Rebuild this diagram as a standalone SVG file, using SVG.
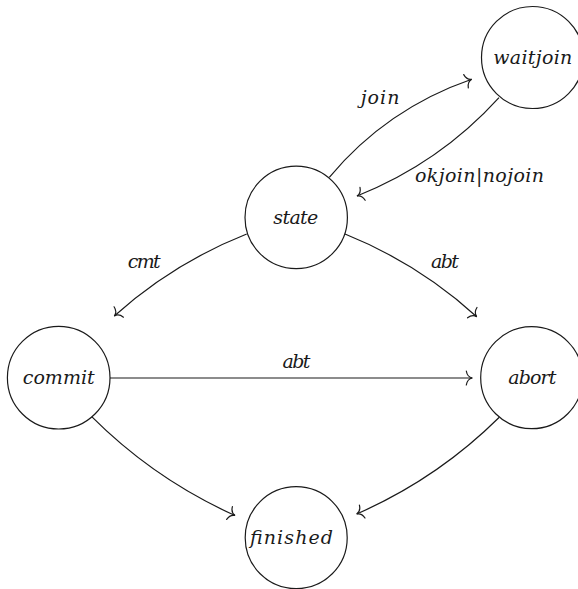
<svg xmlns="http://www.w3.org/2000/svg" width="578" height="589" viewBox="0 0 578 589">
<style>
.node circle{fill:#fff;stroke:#1a1a1a;stroke-width:1.2}
text{font-family:"DejaVu Serif",serif;font-style:italic;font-size:19px;fill:#1a1a1a}
.edge{fill:none;stroke:#1a1a1a;stroke-width:1.2;marker-end:url(#to)}
</style>
<defs>
<marker id="to" viewBox="-10 -10 20 20" markerWidth="20" markerHeight="20" refX="0" refY="0" orient="auto" markerUnits="userSpaceOnUse" overflow="visible">
<path d="M-6,-7 Q-5,-1 0,0 Q-5,1 -6,7" fill="none" stroke="#1a1a1a" stroke-width="1.2" stroke-linecap="round"/>
</marker>
</defs>
<g id="connectors">
<path class="edge" d="M329.3,177.3 Q386.8,108.6 471.7,79.3"/>
<path class="edge" d="M499,97.7 Q439.4,163.3 357,196"/>
<path class="edge" d="M246.7,234 Q173.1,263.1 114.3,316"/>
<path class="edge" d="M345,234 Q418.3,263.5 476.7,316.7"/>
<path class="edge" d="M110,378 L472.3,378"/>
<path class="edge" d="M91.7,416.7 Q154.3,479.3 235,515.5"/>
<path class="edge" d="M499.3,417.3 Q437,479 356.7,514"/>
<text x="360.7" y="104" textLength="38.7" lengthAdjust="spacing">join</text>
<text x="415" y="181.7" textLength="129" lengthAdjust="spacing">okjoin|nojoin</text>
<text x="127.7" y="267.7" textLength="33" lengthAdjust="spacing">cmt</text>
<text x="431" y="267.7" textLength="28" lengthAdjust="spacing">abt</text>
<text x="282.5" y="367.5" textLength="28" lengthAdjust="spacing">abt</text>
</g>
<g id="waitjoin" class="node"><circle cx="532.5" cy="57.5" r="51"/><text x="493.3" y="63.5" textLength="79" lengthAdjust="spacing">waitjoin</text></g>
<g id="state" class="node"><circle cx="296.2" cy="217.4" r="51.2"/><text x="273.3" y="224.3" textLength="45" lengthAdjust="spacing">state</text></g>
<g id="commit" class="node"><circle cx="58.7" cy="377.7" r="51.3"/><text x="22.7" y="384.3" textLength="72" lengthAdjust="spacing">commit</text></g>
<g id="abort" class="node"><circle cx="531.7" cy="377.7" r="51"/><text x="508.3" y="384.3" textLength="48" lengthAdjust="spacing">abort</text></g>
<g id="finished" class="node"><circle cx="296.2" cy="537.7" r="51"/><text x="250" y="544.3" textLength="83" lengthAdjust="spacing">finished</text></g>
</svg>
